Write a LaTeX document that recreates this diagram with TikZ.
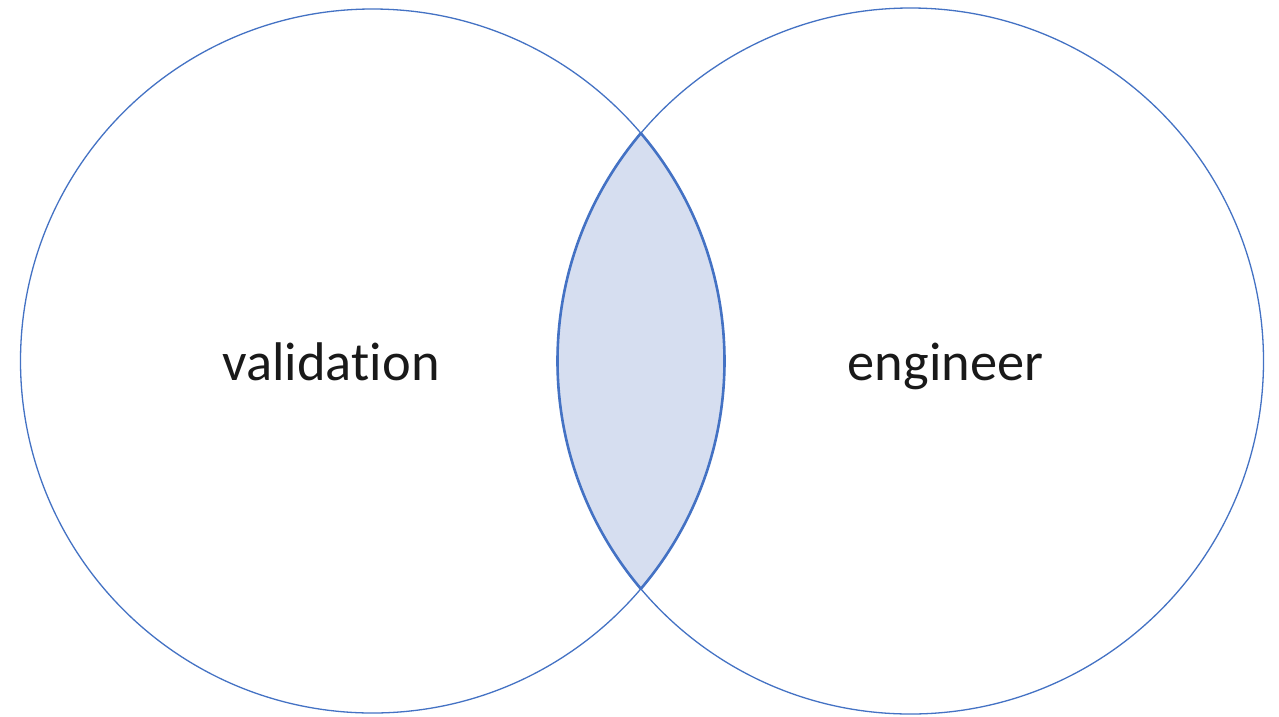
\documentclass[tikz,border=0pt]{standalone}
\usepackage{fontspec}
\setmainfont[Ligatures=NoCommon]{Carlito}
\definecolor{setline}{RGB}{68,114,196}
\definecolor{lensfill}{RGB}{214,222,240}
\tikzset{
  setcircle/.style={draw=setline, line width=1.3pt},
  lensedge/.style={draw=setline, line width=2.6pt},
  setlabel/.style={anchor=base, inner sep=0pt, font=\fontsize{54.4}{60}\selectfont, text=black!90}
}
\begin{document}
\begin{tikzpicture}[x=1pt, y=-1pt]
  \useasboundingbox[fill=white] (0,0) rectangle (1279,716);
  \coordinate (cl) at (372.5,361);
  \coordinate (cr) at (910.5,361);
  % shaded intersection of the two sets
  \begin{scope}
    \clip (cl) circle[radius=352pt];
    \fill[lensfill] (cr) circle[radius=353pt];
  \end{scope}
  % outer circles
  \draw[setcircle] (cl) circle[radius=352pt];
  \draw[setcircle] (cr) circle[radius=353pt];
  % heavier outline of the intersection
  \begin{scope}
    \clip (cl) circle[radius=352pt];
    \draw[lensedge] (cr) circle[radius=353pt];
  \end{scope}
  \begin{scope}
    \clip (cr) circle[radius=353pt];
    \draw[lensedge] (cl) circle[radius=352pt];
  \end{scope}
  % set labels (kern keeps t and i as separate glyphs)
  \node[setlabel] (lval) at (331,380) {valida\kern0pt tion};
  \node[setlabel] (leng) at (945.5,380) {engineer};
\end{tikzpicture}
\end{document}
